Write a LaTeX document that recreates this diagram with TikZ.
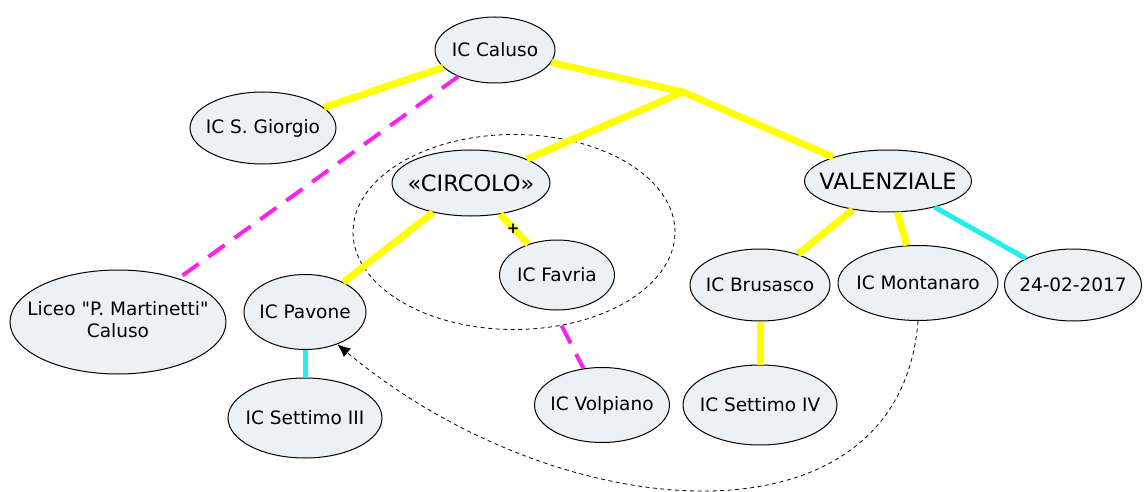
\documentclass[tikz,border=0pt]{standalone}
\usepackage{fontspec}
\setmainfont{DejaVu Sans}[Ligatures=TeXOff]
\usepackage{xcolor}
\usepackage{tikz}
\usetikzlibrary{shapes.geometric, arrows.meta}
\definecolor{nodefill}{HTML}{EBF1F4}
\definecolor{linkyellow}{HTML}{FFFF00}
\definecolor{linkpink}{HTML}{FF22EE}
\definecolor{linkcyan}{HTML}{22EEEE}
\tikzstyle{concept} = [ellipse, draw=black, line width=1pt, fill=nodefill, inner sep=0pt, font=\fontsize{18.5}{22}\selectfont]
\tikzstyle{bigconcept} = [concept, font=\fontsize{22.5}{26}\selectfont]
\tikzstyle{yellowlink} = [draw=linkyellow, line width=7pt]
\tikzstyle{pinklink} = [draw=linkpink, line width=4pt, dash pattern=on 20pt off 12pt]
\tikzstyle{cyanlink} = [draw=linkcyan, line width=5pt]
\tikzstyle{arrow} = [draw=black, line width=0.8pt, dash pattern=on 4pt off 3.5pt, -{Latex[length=13pt,width=11pt]}]
\newcommand{\nlabel}[1]{\makebox[0pt]{#1}}

\begin{document}
\begin{tikzpicture}[x=1pt, y=-1pt]
  \useasboundingbox (0,0) rectangle (1144,492);
  % group around CIRCOLO
  \node (group) [ellipse, draw=black, line width=0.8pt, dash pattern=on 4pt off 3.5pt, minimum width=322pt, minimum height=195pt] at (514,232) {};
  \coordinate (junction) at (683,92);

  \node (caluso) [concept, minimum width=120pt, minimum height=66pt] at (495,50) {\nlabel{IC Caluso}};
  \node (giorgio) [concept, minimum width=146pt, minimum height=72pt] at (263,128) {\nlabel{IC S. Giorgio}};
  \node (circolo) [bigconcept, minimum width=158pt, minimum height=66pt] at (471,183) {\nlabel{«CIRCOLO»}};
  \node (valenziale) [bigconcept, minimum width=167pt, minimum height=62pt] at (888,181) {\nlabel{VALENZIALE}};
  \node (favria) [concept, minimum width=115pt, minimum height=70pt] at (557,275) {\nlabel{IC Favria}};
  \node (liceo) [concept, minimum width=216pt, minimum height=104pt] at (118,322) {\nlabel{\begin{tabular}{@{}c@{}}Liceo "P. Martinetti"\\Caluso\end{tabular}}};
  \node (pavone) [concept, minimum width=122pt, minimum height=75pt] at (305,312) {\nlabel{IC Pavone}};
  \node (brusasco) [concept, minimum width=140pt, minimum height=72pt] at (760,285) {\nlabel{IC Brusasco}};
  \node (montanaro) [concept, minimum width=160pt, minimum height=75pt] at (918,283) {\nlabel{IC Montanaro}};
  \node (date) [concept, minimum width=137pt, minimum height=72pt] at (1073,285) {\nlabel{24-02-2017}};
  \node (settimoiii) [concept, minimum width=154pt, minimum height=80pt] at (305,418) {\nlabel{IC Settimo III}};
  \node (volpiano) [concept, minimum width=135pt, minimum height=75pt] at (602,405) {\nlabel{IC Volpiano}};
  \node (settimoiv) [concept, minimum width=154pt, minimum height=80pt] at (760,405) {\nlabel{IC Settimo IV}};

  \draw [yellowlink] (caluso) -- (junction);
  \draw [yellowlink] (junction) -- (circolo);
  \draw [yellowlink] (junction) -- (valenziale);
  \draw [yellowlink] (caluso) -- (giorgio);
  \draw [pinklink] (caluso) -- (liceo);
  \draw [yellowlink] (circolo) -- (pavone);
  \draw [yellowlink] (circolo) -- node[text=black, font=\bfseries\fontsize{15}{17}\selectfont, inner sep=0pt, xshift=-1pt] {+} (favria);
  \draw [pinklink] (group) -- (volpiano);
  \draw [cyanlink] (pavone) -- (settimoiii);
  \draw [yellowlink] (valenziale) -- (brusasco);
  \draw [yellowlink] (valenziale) -- (montanaro);
  \draw [cyanlink] (valenziale) -- (date);
  \draw [yellowlink] (brusasco) -- (settimoiv);
  \draw [arrow] (montanaro.south) .. controls (900,555) and (560,530) .. (pavone.-45);
\end{tikzpicture}
\end{document}
